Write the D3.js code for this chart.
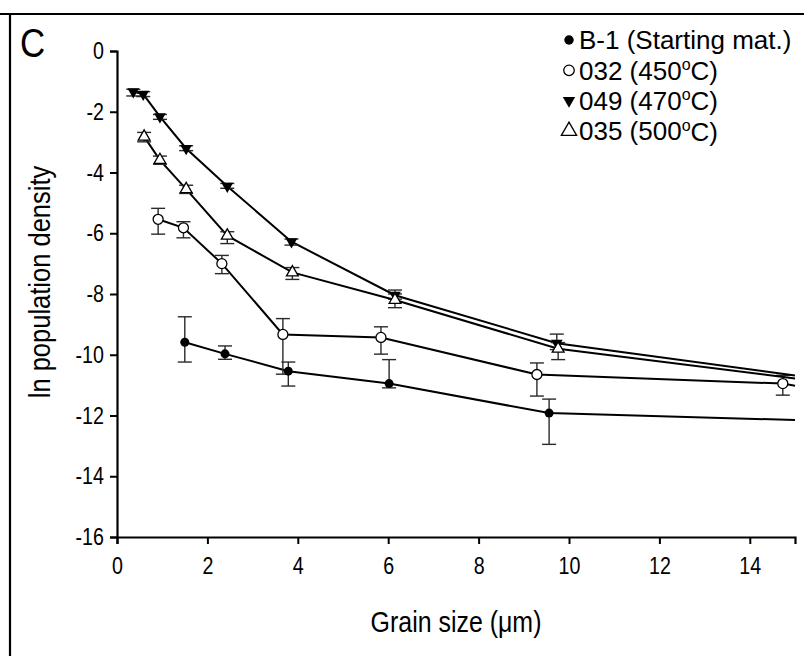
<!DOCTYPE html>
<html>
<head>
<meta charset="utf-8">
<script src="https://cdn.jsdelivr.net/npm/d3@7/dist/d3.min.js"></script>
<style>
body { margin: 0; background: #fff; }
svg { display: block; font-family: Arial, "Liberation Sans", sans-serif; }
</style>
</head>
<body>
<svg class="chart"></svg>
<script>
const xTicks = [0, 2, 4, 6, 8, 10, 12, 14];
const yTicks = [0, -2, -4, -6, -8, -10, -12, -14, -16];

// B-1 (starting material)
const b1X  = [1.50, 2.39, 3.79, 6.02, 9.56, 15];
const b1Y  = [-9.59, -9.97, -10.54, -10.95, -11.92, -12.15];
const b1Lo = [-10.24, -10.15, -11.03, -11.09, -12.95];
const b1Hi = [-8.75, -9.71, -10.24, -10.16, -11.46];

// 032 (450 C)
const s032X  = [0.91, 1.47, 2.32, 3.67, 5.84, 9.29, 14.73, 15];
const s032Y  = [-5.54, -5.82, -7.00, -9.33, -9.43, -10.65, -10.95, -11.02];
const s032Lo = [-6.03, -6.15, -7.33, -10.64, -9.98, -11.36, -11.33];
const s032Hi = [-5.18, -5.62, -6.73, -8.81, -9.08, -10.27, -10.68];

// 049 (470 C)
const s049X  = [0.36, 0.58, 0.95, 1.53, 2.44, 3.86, 6.15, 9.73, 15];
const s049Y  = [-1.34, -1.42, -2.16, -3.21, -4.45, -6.28, -8.04, -9.62, -10.68];
const s049Lo = [-1.48, -1.50, -2.25, -3.28, -4.52, -6.39, -8.17, -9.83];
const s049Hi = [-1.26, -1.34, -2.09, -3.12, -4.36, -6.19, -7.87, -9.32];

// 035 (500 C)
const s035X  = [0.60, 0.95, 1.53, 2.44, 3.88, 6.15, 9.76, 15];
const s035Y  = [-2.82, -3.59, -4.55, -6.08, -7.29, -8.20, -9.80, -10.78];
const s035Lo = [-2.99, -3.73, -4.69, -6.34, -7.52, -8.45, -10.16];
const s035Hi = [-2.68, -3.46, -4.42, -5.95, -7.13, -8.00, -9.60];

const legendNames = ["B-1 (Starting mat.)", "032 (450", "049 (470", "035 (500"];

const series = [
    { name: legendNames[0], x: b1X,   y: b1Y,   lo: b1Lo,   hi: b1Hi,   mark: "dot" },
    { name: legendNames[1], x: s032X, y: s032Y, lo: s032Lo, hi: s032Hi, mark: "ring" },
    { name: legendNames[2], x: s049X, y: s049Y, lo: s049Lo, hi: s049Hi, mark: "down" },
    { name: legendNames[3], x: s035X, y: s035Y, lo: s035Lo, hi: s035Hi, mark: "up" }
];

const W = 804, H = 656;
const margin = { top: 51, right: 9, bottom: 119, left: 117 },
      width = W - margin.left - margin.right,
      height = H - margin.top - margin.bottom;

const root = d3.select(".chart").attr("width", W).attr("height", H);

// frame lines of the panel
root.append("line").attr("x1", 0).attr("x2", W).attr("y1", 14).attr("y2", 14)
    .attr("stroke", "#000").attr("stroke-width", 2.2);
root.append("line").attr("x1", 10).attr("x2", 10).attr("y1", 14).attr("y2", H)
    .attr("stroke", "#000").attr("stroke-width", 2.2);

// axis lettering in the original is a bit narrow
const narrow = 0.82;

root.append("text")
    .attr("transform", `translate(20, 57) scale(0.85, 1)`)
    .attr("font-size", 41).text("C");

const svg = root.append("g")
    .attr("transform", `translate(${margin.left}, ${margin.top})`);

const x = d3.scaleLinear().domain([0, 15]).range([0, width]);
const y = d3.scaleLinear().domain([-16, 0]).range([height, 0]);

const xAxis = svg.append("g")
    .attr("transform", `translate(0, ${height})`)
    .call(d3.axisBottom(x).tickValues(xTicks).tickFormat(d => String(d))
        .tickSizeOuter(0).tickSize(7).tickPadding(13));

const yAxis = svg.append("g")
    .call(d3.axisLeft(y).tickValues(yTicks).tickFormat(d => String(d))
        .tickSizeOuter(0).tickSize(7).tickPadding(6));

[xAxis, yAxis].forEach(a => {
    a.attr("font-family", null);
    a.select(".domain").attr("stroke-width", 2.2);
    a.selectAll(".tick line").attr("stroke-width", 2);
    a.selectAll(".tick text")
        .attr("font-size", 24).attr("fill", "#000")
        .each(function () {
            const t = d3.select(this);
            const tx = +t.attr("x") || 0, ty = +t.attr("y") || 0;
            t.attr("x", 0).attr("y", 0)
             .attr("transform", `translate(${tx}, ${ty}) scale(${narrow}, 1)`);
        });
});

svg.append("text")
    .attr("transform", `translate(${width / 2}, ${height + 95}) scale(0.86, 1)`)
    .attr("text-anchor", "middle").attr("font-size", 29)
    .text("Grain size (\u03bcm)");

svg.append("text")
    .attr("transform", `translate(-67, ${height / 2 - 12}) rotate(-90) scale(0.88, 1)`)
    .attr("text-anchor", "middle").attr("font-size", 29)
    .text("ln population density");

const line = d3.line().x(d => x(d[0])).y(d => y(d[1]));

series.forEach(s => {
    const pts = s.x.map((v, i) => [v, s.y[i]]);
    svg.append("path")
        .datum(pts)
        .attr("fill", "none").attr("stroke", "#000").attr("stroke-width", 2)
        .attr("d", line);

    const bars = s.lo.map((lo, i) => ({ x: s.x[i], lo, hi: s.hi[i] }));
    const eb = svg.append("g").attr("stroke", "#2a2a2a").attr("stroke-width", 1.4);
    eb.selectAll(".v").data(bars).enter().append("line")
        .attr("x1", d => x(d.x)).attr("x2", d => x(d.x))
        .attr("y1", d => y(d.lo)).attr("y2", d => y(d.hi));
    eb.selectAll(".lo").data(bars).enter().append("line")
        .attr("x1", d => x(d.x) - 7).attr("x2", d => x(d.x) + 7)
        .attr("y1", d => y(d.lo)).attr("y2", d => y(d.lo));
    eb.selectAll(".hi").data(bars).enter().append("line")
        .attr("x1", d => x(d.x) - 7).attr("x2", d => x(d.x) + 7)
        .attr("y1", d => y(d.hi)).attr("y2", d => y(d.hi));
});

function drawMark(g, kind, px, py, k) {
    if (kind === "dot") {
        g.append("circle").attr("cx", px).attr("cy", py).attr("r", 4.5 * k).attr("fill", "#000");
    } else if (kind === "ring") {
        g.append("circle").attr("cx", px).attr("cy", py).attr("r", 5 * k)
            .attr("fill", "#fff").attr("stroke", "#000").attr("stroke-width", 1.3);
    } else {
        const sym = d3.symbol().type(d3.symbolTriangle).size(60 * k * k);
        const p = g.append("path").attr("d", sym())
            .attr("transform", `translate(${px}, ${py})` + (kind === "down" ? " rotate(180)" : ""));
        if (kind === "down") p.attr("fill", "#000");
        else p.attr("fill", "#fff").attr("stroke", "#000").attr("stroke-width", 1.3);
    }
}

series.forEach(s => {
    const g = svg.append("g");
    s.lo.forEach((_, i) => drawMark(g, s.mark, x(s.x[i]), y(s.y[i]), 1));
});

// legend
const legend = root.append("g");
const sups = [null, "o", "o", "o"];
series.forEach((s, i) => {
    const cy = 40 + i * 30.3;
    drawMark(legend, s.mark, 569, cy, s.mark === "up" ? 1.3 : 1.05);
    const t = legend.append("text").attr("x", 579).attr("y", cy).attr("dy", "0.36em")
        .attr("font-size", 26).text(s.name);
    if (sups[i]) {
        t.append("tspan").attr("font-size", 16).attr("dy", "-0.6em").text(sups[i]);
        t.append("tspan").attr("dy", "0.38em").text("C)");
    }
});
</script>
</body>
</html>
